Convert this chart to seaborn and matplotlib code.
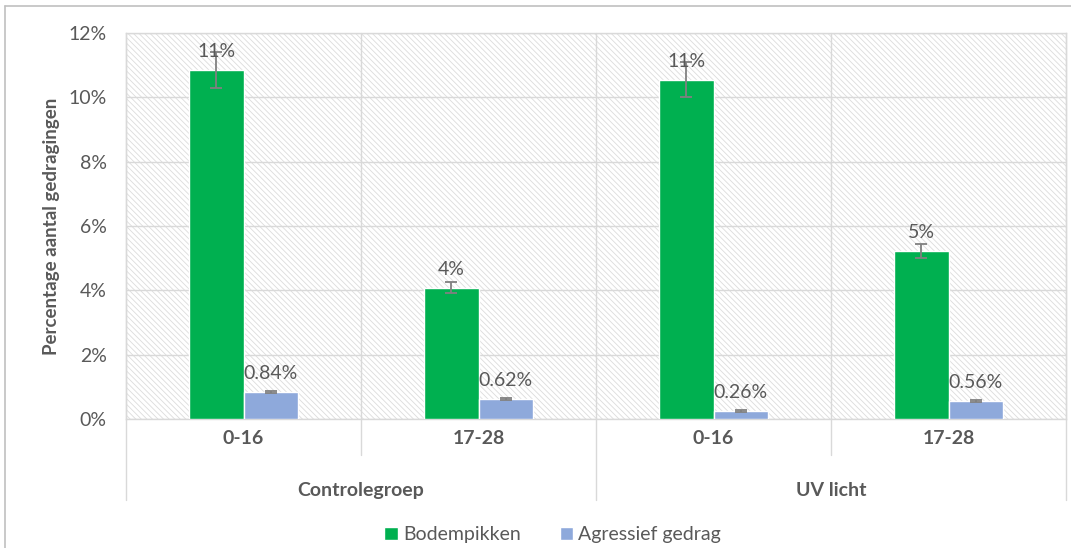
import pandas as pd
import seaborn as sns
import matplotlib.pyplot as plt
from matplotlib.patches import Rectangle
from matplotlib.lines import Line2D
import matplotlib.transforms as mtransforms

# Data
groups = ['Controlegroep', 'Controlegroep', 'UV licht', 'UV licht']
ages = ['0-16', '17-28', '0-16', '17-28']
bodempikken = [10.85, 4.08, 10.55, 5.22]
bodempikken_err = [0.55, 0.17, 0.55, 0.22]
agressief = [0.84, 0.62, 0.26, 0.56]
agressief_err = [0.03, 0.03, 0.03, 0.03]
series_names = ['Bodempikken', 'Agressief gedrag']
y_ticks = [0, 2, 4, 6, 8, 10, 12]

# Long form table for seaborn
cats = [g + ' ' + a for g, a in zip(groups, ages)]
df = pd.DataFrame({
    'cat': cats * 2,
    'gedrag': [series_names[0]] * 4 + [series_names[1]] * 4,
    'value': bodempikken + agressief,
})

sns.set_theme(style='white')
plt.rcParams['font.family'] = ['Lato', 'DejaVu Sans']
plt.rcParams['hatch.linewidth'] = 0.6
plt.rcParams['hatch.color'] = '#dcdcdc'

text_color = '#595959'
line_color = '#d9d9d9'
green = '#00B050'
blue = '#8EA9DB'

fig = plt.figure(figsize=(10.71, 5.48), dpi=100)
ax = fig.add_axes([126 / 1071, 1 - 419 / 548, 940 / 1071, 386 / 548])

# hatched plot area background
ax.add_patch(Rectangle((0, 0), 1, 1, transform=ax.transAxes, facecolor='white',
                       edgecolor='#dcdcdc', hatch='\\' * 6, lw=0, zorder=0))

sns.barplot(data=df, x='cat', y='value', hue='gedrag', palette=[green, blue],
            width=0.46, errorbar=None, saturation=1, ax=ax, zorder=3, legend=False)

ax.set_xlim(-0.5, 3.5)
ax.set_ylim(0, 12)
ax.set_yticks(y_ticks)
ax.set_yticklabels([f'{t}%' for t in y_ticks], fontsize=14, color=text_color)
ax.set_xticks(range(len(ages)))
ax.set_xticklabels(ages, fontsize=14, fontweight='bold', color=text_color)
ax.tick_params(axis='both', length=0)
ax.tick_params(axis='x', pad=8)
ax.tick_params(axis='y', pad=14)
ax.set_xlabel('')
ax.set_ylabel('Percentage aantal gedragingen', fontsize=13.5, fontweight='bold', color=text_color)
ax.yaxis.set_label_coords(-0.07, 0.5)

# gridlines
ax.grid(axis='y', color=line_color, lw=1)
ax.set_axisbelow(True)
for s in ax.spines.values():
    s.set_color(line_color)
    s.set_linewidth(1)

# vertical separators inside and below the plot
trans = mtransforms.blended_transform_factory(ax.transData, ax.transAxes)
for x, low in [(-0.5, -0.21), (0.5, -0.093), (1.5, -0.21), (2.5, -0.093), (3.5, -0.21)]:
    ax.add_line(Line2D([x, x], [low, 1], transform=trans, color=line_color, lw=1,
                       clip_on=False, zorder=1))

# group labels
for i, g in enumerate(['Controlegroep', 'UV licht']):
    ax.text(0.5 + 2 * i, -0.185, g, transform=trans, ha='center', va='center',
            fontsize=14, fontweight='bold', color=text_color)

# error bars and data labels
errs = [bodempikken_err, agressief_err]
vals = [bodempikken, agressief]
fmts = ['{:.0f}%', '{:.2f}%']
for cont, v, e, f in zip(ax.containers, vals, errs, fmts):
    xs = [p.get_x() + p.get_width() / 2 for p in cont.patches]
    ax.errorbar(xs, v, yerr=e, fmt='none', ecolor='#808080', elinewidth=1.3,
                capsize=4, capthick=1.3, zorder=4)
    ax.bar_label(cont, labels=[f.format(x) for x in v], padding=7,
                 fontsize=14, color=text_color, zorder=5)

# legend
handles = [Rectangle((0, 0), 1, 1, facecolor=c) for c in [green, blue]]
fig.legend(handles, series_names, loc='center', bbox_to_anchor=(0.516, 0.024),
           ncol=2, frameon=False, handlelength=0.7, handleheight=0.7,
           handletextpad=0.25, columnspacing=2.0, fontsize=14, labelcolor=text_color)

# outer chart border (top and left visible)
fig.add_artist(Line2D([5 / 1071, 1], [1 - 6 / 548, 1 - 6 / 548], transform=fig.transFigure,
                      color='#c0c0c0', lw=1.2))
fig.add_artist(Line2D([5 / 1071, 5 / 1071], [0, 1 - 6 / 548], transform=fig.transFigure,
                      color='#c0c0c0', lw=1.2))

fig.savefig('out.png', dpi=100)
